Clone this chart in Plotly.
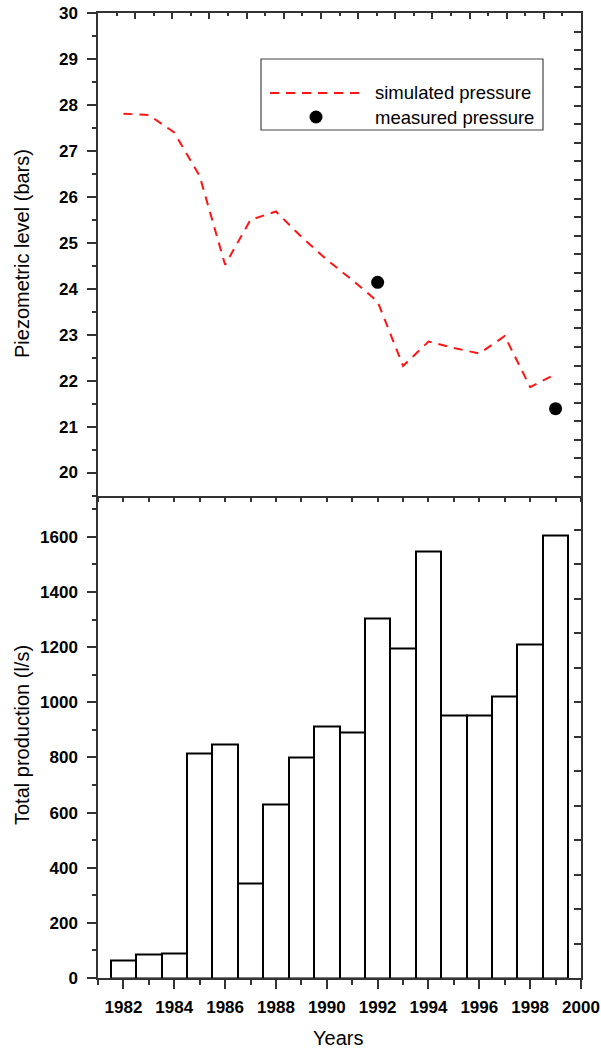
import plotly.graph_objects as go

# Production years
years = list(range(1982, 2000))

# Simulated piezometric level (bars)
simulated = [27.81, 27.78, 27.40, 26.45, 24.52, 25.50, 25.68, 25.13, 24.63,
             24.19, 23.72, 22.32, 22.85, 22.71, 22.59, 22.97, 21.86, 22.14]

# Measured piezometric level (bars)
measured_years = [1992, 1999]
measured = [24.14, 21.39]

# Total production (l/s)
production = [65, 87, 89, 815, 847, 341, 631, 799, 911,
              889, 1303, 1195, 1546, 953, 951, 1020, 1211, 1605]

FONT = "Liberation Sans, Arial, sans-serif"
AX = "#333333"
RED = "#ff1414"

fig = go.Figure()

fig.add_trace(go.Bar(
    x=years, y=production, width=1.0,
    marker=dict(color="white", line=dict(color="black", width=2)),
    xaxis="x", yaxis="y", showlegend=False,
))

fig.add_trace(go.Scatter(
    x=years, y=simulated, mode="lines",
    line=dict(color=RED, width=2, dash="9px,7px"),
    xaxis="x2", yaxis="y2", showlegend=False,
))

fig.add_trace(go.Scatter(
    x=measured_years, y=measured, mode="markers",
    marker=dict(color="black", size=13),
    xaxis="x2", yaxis="y2", showlegend=False,
))

# empty traces so the top/right frame axes get their own subplots
for xa, ya in [("x3", "y2"), ("x2", "y4"), ("x", "y3")]:
    fig.add_trace(go.Scatter(x=[], y=[], xaxis=xa, yaxis=ya,
                             showlegend=False, hoverinfo="skip"))

tick_font = dict(family=FONT, size=17, color="black", weight="bold")

common_line = dict(showline=True, linecolor=AX, linewidth=1.5, showgrid=False,
                   zeroline=False, tickcolor=AX, tickwidth=1.5, automargin=False)

fig.update_layout(
    width=601, height=1052,
    margin=dict(l=98, r=20, t=13, b=74, autoexpand=False),
    paper_bgcolor="white", plot_bgcolor="white",
    bargap=0,
    xaxis=dict(domain=[0, 1], anchor="y", range=[1981, 2000],
               tick0=1982, dtick=2, ticks="outside", ticklen=9,
               tickfont=tick_font, ticklabelstandoff=4,
               minor=dict(dtick=1, ticks="outside", ticklen=5, tickcolor=AX, tickwidth=1.5),
               **common_line),
    yaxis=dict(domain=[0, 0.5], anchor="x", range=[0, 1750],
               tick0=0, dtick=200, ticks="outside", ticklen=9,
               tickfont=tick_font, ticklabelstandoff=6,
               minor=dict(dtick=100, ticks="outside", ticklen=4, tickcolor=AX, tickwidth=1.5),
               **common_line),
    xaxis2=dict(domain=[0, 1], anchor="y2", range=[1981, 2000],
                dtick=1, ticks="outside", ticklen=5, showticklabels=False,
                **common_line),
    yaxis2=dict(domain=[0.5, 1], anchor="x2", range=[19.5, 30],
                tick0=20, dtick=1, ticks="outside", ticklen=9,
                tickfont=tick_font, ticklabelstandoff=6,
                minor=dict(dtick=0.5, ticks="outside", ticklen=4, tickcolor=AX, tickwidth=1.5),
                **common_line),
    # frame axes on the top and right sides
    xaxis3=dict(overlaying="x2", anchor="y2", side="top", range=[0, 26],
                dtick=2, ticks="inside", ticklen=6, showticklabels=False,
                minor=dict(dtick=1, ticks="inside", ticklen=3.5, tickcolor=AX, tickwidth=1.5),
                **common_line),
    yaxis3=dict(overlaying="y", anchor="x", side="right", range=[0, 14],
                dtick=1, ticks="inside", ticklen=7, showticklabels=False,
                **common_line),
    yaxis4=dict(overlaying="y2", anchor="x2", side="right", range=[0, 26],
                dtick=1, ticks="inside", ticklen=7, showticklabels=False,
                **common_line),
)

# pixel -> paper coordinate helpers
def px_x(p):
    return (p - 98) / 483.0

def px_y(p):
    return (978 - p) / 965.0

# axis titles
title_font = dict(family=FONT, size=20, color="black")
fig.add_annotation(text="Piezometric level (bars)", xref="paper", yref="paper",
                   x=px_x(22), y=px_y(254), textangle=-90, showarrow=False,
                   xanchor="center", yanchor="middle", font=title_font)
fig.add_annotation(text="Total production (l/s)", xref="paper", yref="paper",
                   x=px_x(22), y=px_y(735), textangle=-90, showarrow=False,
                   xanchor="center", yanchor="middle", font=title_font)
fig.add_annotation(text="Years", xref="paper", yref="paper",
                   x=px_x(338), y=px_y(1038), showarrow=False,
                   xanchor="center", yanchor="middle", font=title_font)

# legend box for the pressure panel
fig.add_shape(type="rect", xref="paper", yref="paper",
              x0=px_x(261), x1=px_x(543), y0=px_y(130), y1=px_y(59),
              line=dict(color="#444444", width=1.2), fillcolor="white", layer="below")
fig.add_shape(type="line", xref="paper", yref="paper",
              x0=px_x(270), x1=px_x(360), y0=px_y(93), y1=px_y(93),
              line=dict(color=RED, width=2, dash="9px,7px"))
fig.add_shape(type="circle", xref="paper", yref="paper",
              xsizemode="pixel", ysizemode="pixel",
              xanchor=px_x(316), yanchor=px_y(117),
              x0=-6.5, x1=6.5, y0=-6.5, y1=6.5,
              line=dict(color="black", width=0), fillcolor="black")
for label, ypix in [("simulated pressure", 93), ("measured pressure", 117)]:
    fig.add_annotation(text=label, xref="paper", yref="paper",
                       x=px_x(373), y=px_y(ypix), xanchor="left", yanchor="middle",
                       showarrow=False, font=dict(family=FONT, size=18.5, color="black"))

fig.write_html("out.html")
